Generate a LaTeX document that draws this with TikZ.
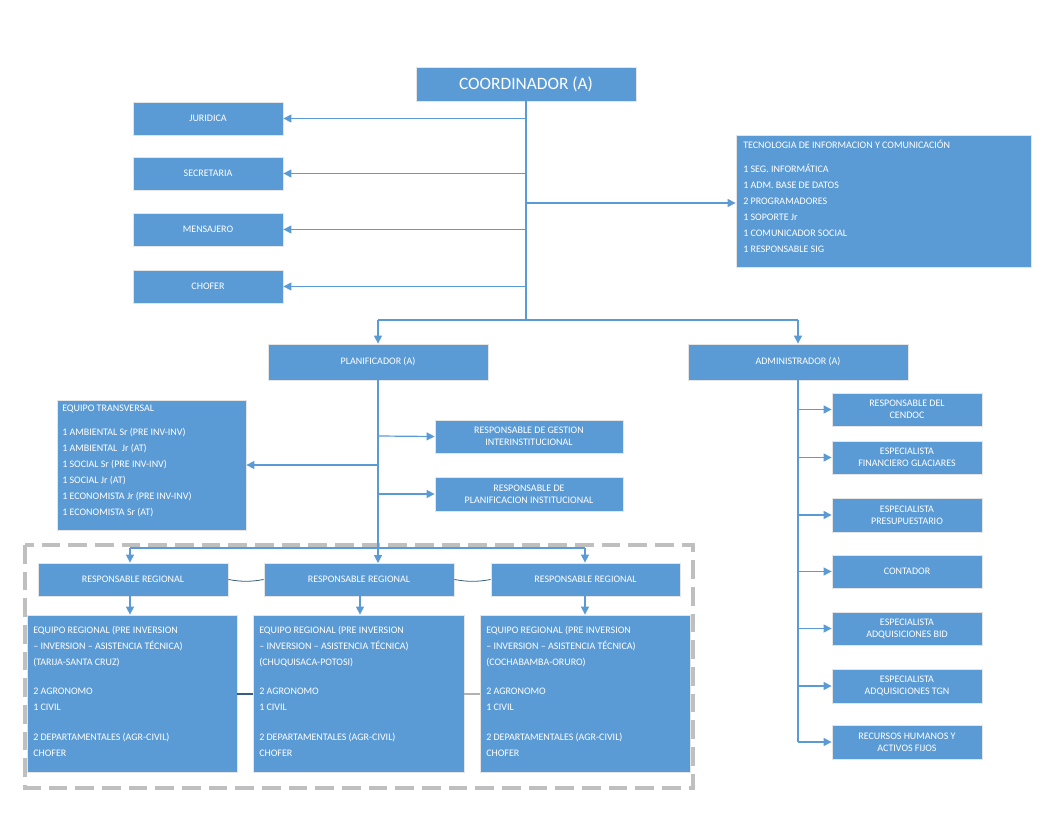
\documentclass[tikz,border=0pt]{standalone}
\usepackage{fontspec}
\setmainfont{Carlito}
\usetikzlibrary{arrows.meta}
\definecolor{bx}{HTML}{5B9BD5}
\begin{document}
\begin{tikzpicture}[x=0.75pt,y=-0.75pt,
  box/.style={fill=bx,draw=white!80!gray,line width=0.6pt,text=white,font=\fontsize{7.5}{9}\selectfont,inner sep=0pt},
  ln/.style={draw=bx,line width=0.9pt},
  arr/.style={ln,-{Triangle[width=6pt,length=6pt]}}]
\useasboundingbox (0,0) rectangle (1051,813);
\newcommand{\bx}[6]{\node[box,minimum width=#3*0.75pt-#1*0.75pt,minimum height=#4*0.75pt-#2*0.75pt,#6] (#5) at ({(#1+#3)/2},{(#2+#4)/2})}
% dashed frame
\draw[gray!50,line width=3pt,dash pattern=on 14pt off 6pt] (25,545) rectangle (693,788);
\bx{416}{67}{636}{101}{coord}{font=\fontsize{13}{15}\selectfont}{COORDINADOR (A)};
\bx{133}{102}{283}{135}{jur}{}{JURIDICA};
\bx{133}{157}{283}{190}{sec}{}{SECRETARIA};
\bx{133}{213}{283}{246}{men}{}{MENSAJERO};
\bx{133}{270}{283}{303}{cho}{}{CHOFER};
\bx{736}{135}{1031}{267}{tic}{}{};
\node[text=white,font=\fontsize{7.5}{12}\selectfont,anchor=north west,align=left,inner sep=0pt] at (743,140) {TECNOLOGIA DE INFORMACION Y COMUNICACIÓN\\[6pt]1 SEG. INFORMÁTICA\\1 ADM. BASE DE DATOS\\2 PROGRAMADORES\\1 SOPORTE Jr\\1 COMUNICADOR SOCIAL\\1 RESPONSABLE SIG};
\bx{268}{344}{488}{380}{plan}{}{PLANIFICADOR (A)};
\bx{688}{344}{908}{380}{adm}{}{ADMINISTRADOR (A)};
\bx{57}{400}{246}{530}{eqt}{}{};
\node[text=white,font=\fontsize{7.5}{12}\selectfont,anchor=north west,align=left,inner sep=0pt] at (62,405) {EQUIPO TRANSVERSAL\\[6pt]1 AMBIENTAL Sr (PRE INV-INV)\\1 AMBIENTAL~ Jr (AT)\\1 SOCIAL Sr (PRE INV-INV)\\1 SOCIAL Jr (AT)\\1 ECONOMISTA Jr (PRE INV-INV)\\1 ECONOMISTA Sr (AT)};
\bx{435}{420}{623}{453}{rgi}{align=center}{RESPONSABLE DE GESTION\\INTERINSTITUCIONAL};
\bx{435}{477}{623}{511}{rpi}{align=center}{RESPONSABLE DE\\PLANIFICACION INSTITUCIONAL};
\bx{38}{563}{228}{596}{r1}{}{RESPONSABLE REGIONAL};
\bx{264}{563}{454}{596}{r2}{}{RESPONSABLE REGIONAL};
\bx{491}{563}{680}{596}{r3}{}{RESPONSABLE REGIONAL};
\bx{27}{615}{237}{772}{e1}{}{};
\bx{253}{615}{464}{772}{e2}{}{};
\bx{480}{615}{690}{772}{e3}{}{};
\foreach \n/\x/\p in {e1/33/(TARIJA-SANTA CRUZ),e2/259/(CHUQUISACA-POTOSI),e3/486/(COCHABAMBA-ORURO)}{
\node[text=white,font=\fontsize{7.5}{12}\selectfont,anchor=north west,align=left,inner sep=0pt] at (\x,626) {EQUIPO REGIONAL (PRE INVERSION\\– INVERSION – ASISTENCIA TÉCNICA)\\\p\\[10pt]2 AGRONOMO\\1 CIVIL\\[10pt]2 DEPARTAMENTALES (AGR-CIVIL)\\CHOFER};}
\foreach \n/\a/\b/\t in {a1/393/426/{RESPONSABLE DEL\\CENDOC},a2/441/474/{ESPECIALISTA\\FINANCIERO GLACIARES},a3/498/532/{ESPECIALISTA\\PRESUPUESTARIO},a4/555/588/{CONTADOR},a5/612/645/{ESPECIALISTA\\ADQUISICIONES BID},a6/669/703/{ESPECIALISTA\\ADQUISICIONES TGN},a7/725/759/{RECURSOS HUMANOS Y\\ACTIVOS FIJOS}}{
\bx{832}{\a}{982}{\b}{\n}{align=center}{\t};
\draw[arr] (798,{(\a+\b)/2}) -- (\n.west);}
% coordinator trunk
\coordinate (t1) at (526,320);
\draw[ln] (coord.south -| t1) -- (t1);
\foreach \n in {jur,sec,men,cho}{\draw[arr] (\n.east -| t1) -- (\n.east);}
\draw[arr] (526,203) -- (tic.west |- 0,203);
\draw[ln] (378,320) -- (798,320);
\draw[arr] (378,320) -- (plan.north);
\draw[arr] (798,320) -- (adm.north);
\draw[ln] (adm.south -| 798,0) -- (798,742);
% planificador
\draw[ln] (plan.south) -- (378,548);
\draw[arr] (378,465) -- (eqt.east |- 0,465);
\draw[arr] (378,436) -- (rgi.west);
\draw[arr] (378,494) -- (rpi.west);
\draw[ln] (130,548) -- (585,548);
\draw[arr] (130,548) -- (r1.north -| 130,0);
\draw[arr] (378,548) -- (378,563);
\draw[arr] (585,548) -- (r3.north -| 585,0);
\draw[arr] (r1.south -| 130,0) -- (e1.north -| 130,0);
\draw[arr] (r2.south -| 360,0) -- (e2.north -| 360,0);
\draw[arr] (r3.south -| 585,0) -- (e3.north -| 585,0);
\draw[bx!60!black,line width=0.6pt] (r1.east) to[out=-10,in=190] (r2.west);
\draw[bx!60!black,line width=0.6pt] (r2.east) to[out=-10,in=190] (r3.west);
\draw[bx!60!black,line width=1.2pt] (e1.east |- 0,694) -- (e2.west |- 0,694);
\draw[gray!60,line width=1.2pt] (e2.east |- 0,694) -- (e3.west |- 0,694);
\end{tikzpicture}
\end{document}
